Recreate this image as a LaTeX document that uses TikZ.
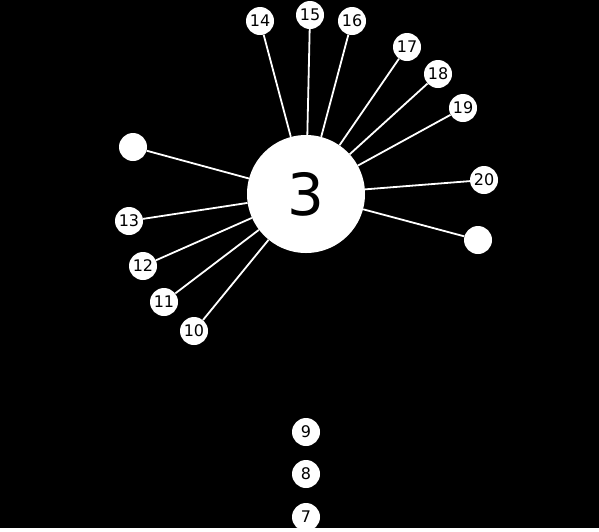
\documentclass[tikz,border=0pt]{standalone}
\usepackage{fontspec}
\setmainfont{DejaVu Sans}
\begin{document}
\begin{tikzpicture}[x=1pt, y=-1pt,
    leaf/.style={circle, fill=white, minimum size=28pt, inner sep=0pt, text=black, font=\fontsize{16}{16}\selectfont},
    hub/.style={circle, fill=white, minimum size=118pt, inner sep=0pt, text=black, font=\fontsize{58}{58}\selectfont},
    link/.style={draw=white, line width=1.8pt}]
      \fill[black] (0,0) rectangle (599,528);

      \node[hub] (hub) at (306,194) {3};

      \foreach \n/\x/\y in {14/260/21, 15/310/15, 16/352/21, 17/407/47, 18/438/74, 19/463/108, 20/484/180,
          13/129/221, 12/143/266, 11/164/302, 10/194/331, 9/306/432, 8/306/474, 7/306/517}
          \node[leaf] (n\n) at (\x,\y) {\n};

      \node[leaf] (left) at (133,147) {};
      \node[leaf] (right) at (478,240) {};

      \foreach \n in {14,15,16,17,18,19,20,13,12,11,10}
          \draw[link] (hub) -- (n\n);
      \draw[link] (hub) -- (left);
      \draw[link] (hub) -- (right);
\end{tikzpicture}
\end{document}
